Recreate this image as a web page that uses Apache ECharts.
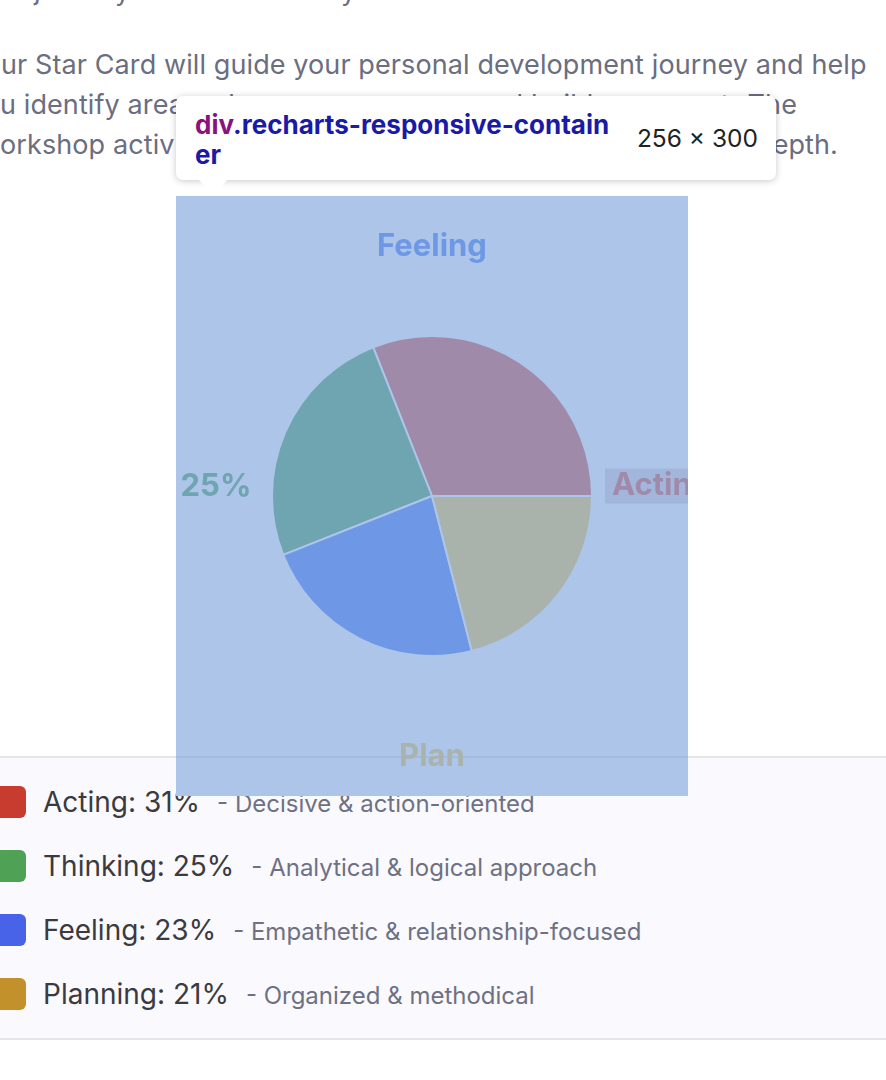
<!DOCTYPE html>
<html>
<head>
<meta charset="utf-8">
<script src="https://cdn.jsdelivr.net/npm/echarts/dist/echarts.min.js"></script>
<style>
  html, body { margin:0; padding:0; }
  body { width:886px; height:1080px; overflow:hidden; background:#ffffff; position:relative; font-family:Inter, "Noto Sans", sans-serif; }
  .pl { position:absolute; font-size:27px; letter-spacing:0.1px; line-height:40px; color:#6B6D80; white-space:nowrap; }
  #panel { position:absolute; left:0; top:756px; width:886px; height:280px; background:#F9F9FE; border-top:2px solid #E4E4EA; border-bottom:2px solid #E4E4EA; }
  .icon { position:absolute; left:-6px; width:32px; height:32px; border-radius:6px; }
  .row { position:absolute; left:43px; font-size:28px; line-height:40px; white-space:nowrap; color:#3A3A40; }
  .row .d { font-size:24px; color:#6E7183; margin-left:17px; }
  #chart { position:absolute; left:176px; top:196px; width:512px; height:600px; background:#ACC5E9; z-index:5; }
  #tip { position:absolute; left:176px; top:96px; width:600px; height:84px; background:#fff; border-radius:7px; box-shadow:0 1px 7px rgba(0,0,0,0.22); z-index:10; }
  #tip .sel { position:absolute; left:19px; top:14px; font-size:26px; line-height:30px; font-weight:bold; color:#1A1AA6; white-space:nowrap; }
  #tip .sel .tag { color:#881280; }
  #tip .dim { position:absolute; right:18px; top:27px; font-size:24.5px; line-height:30px; color:#222; white-space:nowrap; }
  #arrow { position:absolute; left:22px; top:83px; width:0; height:0; border-left:15px solid transparent; border-right:15px solid transparent; border-top:17px solid #fff; }
</style>
</head>
<body>
<div class="pl" style="top:-29px;left:0;">ur journey of self-discovery:</div>
<div class="pl" style="top:45px;left:1px;">ur Star Card will guide your personal development journey and help</div>
<div class="pl" style="top:85px;left:0;width:740px;overflow:hidden;">u identify areas where you can grow and build on your strengths.</div>
<div class="pl" style="top:85px;right:89px;">The</div>
<div class="pl" style="top:125px;left:0;width:740px;overflow:hidden;">orkshop activities will explore each of these areas in more</div>
<div class="pl" style="top:125px;right:48px;">depth.</div>

<div id="panel"></div>
<div id="legend"></div>

<div id="chart"></div>

<div id="tip">
  <div class="sel"><span class="tag">div</span>.recharts-responsive-contain<br>er</div>
  <div class="dim">256 × 300</div>
  <div id="arrow"></div>
</div>

<script>
// ---- data ----
const categories = ['Acting', 'Thinking', 'Feeling', 'Planning'];
const values = [31, 25, 23, 21];
const descriptions = ['Decisive & action-oriented', 'Analytical & logical approach', 'Empathetic & relationship-focused', 'Organized & methodical'];
const sliceColors = ['#A08AA9', '#6FA4B1', '#6E98E6', '#A9B3AB'];
const legendColors = ['#C73C2F', '#4FA156', '#4963E8', '#C3912B'];
const sliceLabels = ['Acting', '25%', 'Feeling', 'Plan'];

// ---- legend (HTML) ----
const legend = document.getElementById('legend');
categories.forEach((c, i) => {
  const icon = document.createElement('div');
  icon.className = 'icon';
  icon.style.top = (786 + 64 * i) + 'px';
  icon.style.background = legendColors[i];
  legend.appendChild(icon);
  const row = document.createElement('div');
  row.className = 'row';
  row.style.top = (782 + 64 * i) + 'px';
  row.innerHTML = '<span>' + c + ': ' + values[i] + '%</span><span class="d">- ' + descriptions[i].replace(/&/g, '&amp;') + '</span>';
  legend.appendChild(row);
});

// ---- chart ----
const chart = echarts.init(document.getElementById('chart'), null, { renderer: 'canvas' });
const labelFont = { fontFamily: 'Inter', fontWeight: 'bold', fontSize: 31 };
chart.setOption({
  animation: false,
  series: [{
    type: 'pie',
    center: [256, 300],
    radius: 160,
    startAngle: 0,
    clockwise: false,
    silent: true,
    label: { show: false },
    labelLine: { show: false },
    itemStyle: { borderColor: '#ACC5E9', borderWidth: 2 },
    data: categories.map((c, i) => ({ name: c, value: values[i], itemStyle: { color: sliceColors[i] } }))
  }],
  graphic: [
    { type: 'line', shape: { x1: 0, y1: 561, x2: 512, y2: 561 }, style: { stroke: '#A4BBDF', lineWidth: 2 }, z: 1 },
    { type: 'text', x: 256, y: 51, z: 10, style: Object.assign({ text: sliceLabels[2], fill: sliceColors[2], align: 'center', verticalAlign: 'middle' }, labelFont) },
    { type: 'text', x: 40, y: 291, z: 10, style: Object.assign({ text: sliceLabels[1], fill: sliceColors[1], align: 'center', verticalAlign: 'middle' }, labelFont) },
    { type: 'text', x: 429, y: 290, z: 10, style: Object.assign({ text: sliceLabels[0], fill: sliceColors[0], align: 'left', verticalAlign: 'middle', backgroundColor: '#A2B6DC', padding: [3, 7, 3, 7], lineHeight: 29 }, labelFont) },
    { type: 'text', x: 256, y: 561, z: 10, style: Object.assign({ text: sliceLabels[3], fill: sliceColors[3], align: 'center', verticalAlign: 'middle' }, labelFont) }
  ]
});
</script>
</body>
</html>
